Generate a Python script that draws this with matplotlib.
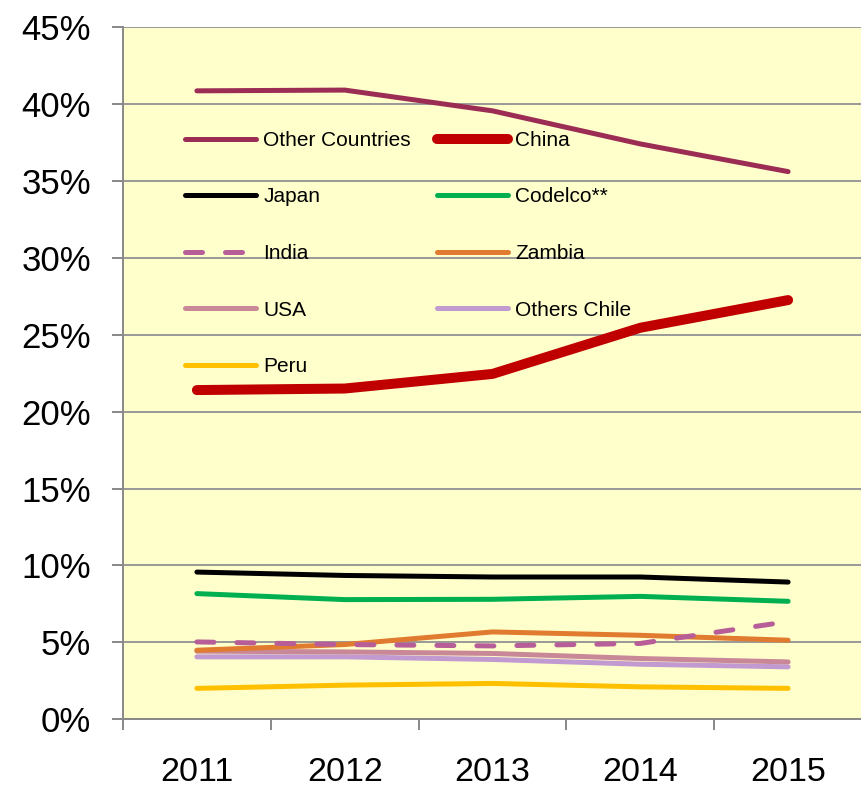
import matplotlib.pyplot as plt
from matplotlib.ticker import FixedLocator, NullFormatter, FixedFormatter

plt.rcParams['font.family'] = ['Liberation Sans', 'DejaVu Sans']

# data
years = ['2011', '2012', '2013', '2014', '2015']
other_countries = [40.85, 40.9, 39.55, 37.4, 35.6]
china = [21.4, 21.5, 22.45, 25.45, 27.25]
japan = [9.57, 9.35, 9.25, 9.25, 8.92]
codelco = [8.17, 7.78, 7.8, 7.99, 7.67]
india = [5.03, 4.86, 4.77, 4.93, 6.35]
zambia = [4.49, 4.86, 5.68, 5.46, 5.14]
usa = [4.43, 4.38, 4.28, 3.95, 3.73]
others_chile = [4.06, 4.06, 3.89, 3.58, 3.41]
peru = [2.01, 2.22, 2.33, 2.11, 2.01]
y_ticks = [0, 5, 10, 15, 20, 25, 30, 35, 40, 45]

fig = plt.figure(figsize=(8.62, 7.91), dpi=100)
ax = fig.add_axes([123 / 862, 1 - 719.3 / 791, 1 - 123 / 862, (719.3 - 27) / 791])
ax.set_facecolor('#FFFFCC')

x = list(range(len(years)))
h_oc, = ax.plot(x, other_countries, color='#9B2D55', lw=3.6, solid_capstyle='round', label='Other Countries')
h_cn, = ax.plot(x, china, color='#C00000', lw=7.2, solid_capstyle='round', label='China')
h_jp, = ax.plot(x, japan, color='black', lw=3.6, solid_capstyle='round', label='Japan')
h_cd, = ax.plot(x, codelco, color='#00B050', lw=3.6, solid_capstyle='round', label='Codelco**')
h_in, = ax.plot(x, india, color='#B75E99', lw=3.6, ls=(0, (3.4, 4.6)), dash_capstyle='round', label='India')
h_zm, = ax.plot(x, zambia, color='#E07B30', lw=3.6, solid_capstyle='round', label='Zambia')
h_us, = ax.plot(x, usa, color='#C98898', lw=3.6, solid_capstyle='round', label='USA')
h_ch, = ax.plot(x, others_chile, color='#C09AD0', lw=3.6, solid_capstyle='round', label='Others Chile')
h_pe, = ax.plot(x, peru, color='#FFC000', lw=3.6, solid_capstyle='round', label='Peru')
# draw order: low lines underneath
for h, z in [(h_pe, 2), (h_ch, 3), (h_us, 4), (h_zm, 5), (h_in, 6), (h_cd, 7), (h_jp, 8), (h_cn, 9), (h_oc, 10)]:
    h.set_zorder(z)

ax.set_xlim(-0.5, 4.5)
ax.set_ylim(0, 45)
ax.set_yticks(y_ticks)
ax.set_yticklabels([f'{v}%' for v in y_ticks])
ax.yaxis.grid(True, color='#999999', lw=1.4)
ax.set_axisbelow(True)

ax.xaxis.set_major_locator(FixedLocator([-0.5, 0.5, 1.5, 2.5, 3.5, 4.5]))
ax.xaxis.set_major_formatter(NullFormatter())
ax.xaxis.set_minor_locator(FixedLocator(x))
ax.xaxis.set_minor_formatter(FixedFormatter(years))
ax.tick_params(axis='x', which='minor', length=0, pad=27, labelsize=24.5)
ax.tick_params(axis='x', which='major', length=8, width=1.4, color='#888888')
ax.tick_params(axis='y', length=8, width=1.4, color='#888888', pad=15, labelsize=25)

for s in ['top', 'right']:
    ax.spines[s].set_visible(False)
for s in ['left', 'bottom']:
    ax.spines[s].set_color('#888888')
    ax.spines[s].set_linewidth(1.4)

handles = [h_oc, h_jp, h_in, h_us, h_pe, h_cn, h_cd, h_zm, h_ch]
leg = fig.legend(handles=handles, labels=[h.get_label() for h in handles],
                 ncol=2, loc='upper left', bbox_to_anchor=(185 / 862, 1 - 131 / 791),
                 frameon=False, fontsize=15, handlelength=3.4, handletextpad=0.35,
                 columnspacing=1.25, labelspacing=1.8, borderpad=0, borderaxespad=0)

fig.savefig('out.png', dpi=100)
